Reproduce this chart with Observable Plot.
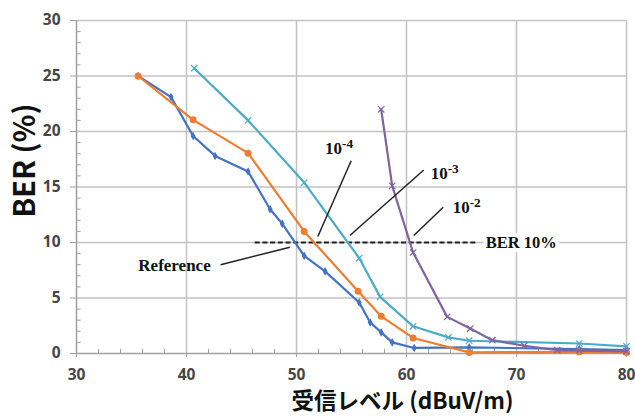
<!DOCTYPE html>
<html>
<head>
<meta charset="utf-8">
<script src="https://cdn.jsdelivr.net/npm/d3@7"></script>
<script src="https://cdn.jsdelivr.net/npm/@observablehq/plot@0.6"></script>
<style>
  html, body { margin: 0; padding: 0; background: #fff; }
</style>
</head>
<body>
<div id="chart"></div>
<script>
// ---- data ----
const refX = [35.6, 38.6, 40.6, 42.6, 45.6, 47.6, 48.7, 50.7, 52.6, 55.7, 56.7, 57.7, 58.7, 60.7, 65.7, 75.7, 80];
const refY = [25, 23.1, 19.6, 17.8, 16.4, 13.0, 11.7, 8.8, 7.4, 4.6, 2.8, 1.9, 1.0, 0.5, 0.55, 0.4, 0.3];

const e4X = [35.6, 40.6, 45.6, 50.7, 55.6, 57.7, 60.6, 65.7, 75.7, 80];
const e4Y = [25, 21.05, 18.05, 11.0, 5.6, 3.35, 1.4, 0.1, 0.15, 0.1];

const e3X = [40.7, 45.6, 50.7, 55.7, 57.6, 60.6, 63.8, 65.7, 75.7, 80];
const e3Y = [25.7, 21.0, 15.4, 8.6, 5.1, 2.45, 1.45, 1.15, 0.9, 0.65];

const e2X = [57.7, 58.7, 60.6, 63.7, 65.8, 67.8, 70.7, 73.7, 75.7, 80];
const e2Y = [22.0, 15.1, 9.1, 3.3, 2.25, 1.2, 0.7, 0.3, 0.25, 0.2];

const xTicks = [30, 40, 50, 60, 70, 80];
const yTicks = [0, 5, 10, 15, 20, 25, 30];
const xMinor = [32, 34, 36, 38, 42, 44, 46, 48, 52, 54, 56, 58, 62, 64, 66, 68, 72, 74, 76, 78];
const yMinor = [1,2,3,4,6,7,8,9,11,12,13,14,16,17,18,19,21,22,23,24,26,27,28,29];

const xTitle = "受信レベル (dBuV/m)";
const yTitle = "BER (%)";

// threshold line
const berLevel = 10;
const berRange = [46.2, 66.4];
const berLabel = "BER 10%";
const berLabelX = 67.2;

// annotation callouts
const refLabel = "Reference";
const refLabelPos = [42.2, 7.93];
const refLeader = [43.1, 8.0, 49.4, 9.58];

const expLabels = ["10-4", "10-3", "10-2"];
const expLabelX = [52.6, 62.2, 64.2];
const expLabelY = [18.45, 16.25, 13.17];
const leadX1 = [54.97, 61.57, 63.34];
const leadY1 = [17.37, 16.53, 13.17];
const leadX2 = [51.94, 54.85, 60.66];
const leadY2 = [10.54, 10.63, 10.63];

const colors = { ref: "#4472C4", e4: "#ED7D31", e3: "#4BACC6", e2: "#8064A2" };

const toPts = (xs, ys) => xs.map((x, i) => ({ x, y: ys[i] }));
const refPts = toPts(refX, refY);
const e4Pts = toPts(e4X, e4Y);
const e3Pts = toPts(e3X, e3Y);
const e2Pts = toPts(e2X, e2Y);
const leaders = expLabels.map((t, i) => ({ x1: leadX1[i], y1: leadY1[i], x2: leadX2[i], y2: leadY2[i] }));
const expPts = expLabels.map((t, i) => ({ t, x: expLabelX[i], y: expLabelY[i] }));

const gridColor = "#c2c2c2";
const axisColor = "#a0a0a0";
const serif = "'Liberation Serif', 'DejaVu Serif', serif";
const titleFont = "'Noto Sans CJK JP', sans-serif";

const chart = Plot.plot({
  width: 635,
  height: 418,
  marginLeft: 76,
  marginRight: 9,
  marginTop: 20,
  marginBottom: 65,
  style: { fontFamily: "'Open Sans', sans-serif", background: "#fff", overflow: "visible" },
  x: { domain: [30, 80], label: null },
  y: { domain: [0, 30], label: null },
  marks: [
    Plot.gridX(xTicks.slice(1), { stroke: gridColor, strokeOpacity: 1, strokeWidth: 1.5 }),
    Plot.gridY(yTicks.slice(1), { stroke: gridColor, strokeOpacity: 1, strokeWidth: 1.5 }),
    Plot.ruleY(yMinor, { x1: 30, x2: 30.42, stroke: axisColor, strokeWidth: 1 }),
    Plot.ruleX(xMinor, { y1: 0, y2: 0.38, stroke: axisColor, strokeWidth: 1 }),
    Plot.axisY({ ticks: yTicks, tickSize: 6, tickPadding: 10, fontSize: 15.5, fontWeight: "bold",
      color: "#454545", stroke: axisColor, label: null }),
    Plot.axisX({ ticks: xTicks, tickSize: 4, tickPadding: 11, fontSize: 15.5, fontWeight: "bold",
      color: "#454545", stroke: axisColor, label: null }),
    Plot.ruleX([30], { stroke: axisColor, strokeWidth: 1.5 }),
    Plot.ruleY([0], { stroke: axisColor, strokeWidth: 1.5 }),

    // threshold
    Plot.link([berLevel], { x1: berRange[0], x2: berRange[1], y1: d => d, y2: d => d,
      stroke: "#222", strokeWidth: 2, strokeDasharray: "5,2.7" }),
    Plot.text([berLabel], { x: berLabelX, y: berLevel, text: d => d, textAnchor: "start",
      fontFamily: serif, fontWeight: "bold", fontSize: 16.5, fill: "#111",
      stroke: "#fff", strokeWidth: 8 }),

    // series
    Plot.line(refPts, { x: "x", y: "y", stroke: colors.ref, strokeWidth: 2.2 }),
    Plot.dot(refPts, { x: "x", y: "y", symbol: "diamond", r: 2.6, fill: colors.ref }),
    Plot.line(e4Pts, { x: "x", y: "y", stroke: colors.e4, strokeWidth: 2.2 }),
    Plot.dot(e4Pts, { x: "x", y: "y", symbol: "circle", r: 3.5, fill: colors.e4 }),
    Plot.line(e3Pts, { x: "x", y: "y", stroke: colors.e3, strokeWidth: 2.2 }),
    Plot.dot(e3Pts, { x: "x", y: "y", symbol: "times", r: 3, stroke: colors.e3, strokeWidth: 1.2 }),
    Plot.line(e2Pts, { x: "x", y: "y", stroke: colors.e2, strokeWidth: 2.2 }),
    Plot.dot(e2Pts, { x: "x", y: "y", symbol: "times", r: 3, stroke: colors.e2, strokeWidth: 1.2 }),

    // callouts
    Plot.link([refLeader], { x1: d => d[0], y1: d => d[1], x2: d => d[2], y2: d => d[3],
      stroke: "#222", strokeWidth: 1.5 }),
    Plot.text([refLabel], { x: refLabelPos[0], y: refLabelPos[1], text: d => d, textAnchor: "end",
      fontFamily: serif, fontWeight: "bold", fontSize: 17, fill: "#111" }),
    Plot.link(leaders, { x1: "x1", y1: "y1", x2: "x2", y2: "y2", stroke: "#222", strokeWidth: 1.5 }),
    Plot.text(expPts, { x: "x", y: "y", text: "t", textAnchor: "start",
      fontFamily: serif, fontWeight: "bold", fontSize: 17, fill: "#111",
      stroke: "#fff", strokeWidth: 4 }),

    // titles
    Plot.text([xTitle], { frameAnchor: "bottom", textAnchor: "middle", lineAnchor: "middle",
      dx: 51, dy: 48, text: d => d,
      fontFamily: titleFont, fontWeight: "bold", fontSize: 22.5, fill: "#111" }),
    Plot.text([yTitle], { frameAnchor: "left", textAnchor: "middle", lineAnchor: "middle",
      dx: -51, dy: -26.5, rotate: -90, text: d => d,
      fontFamily: titleFont, fontWeight: "bold", fontSize: 29, fill: "#111" })
  ]
});

// superscript exponents (10-4 -> 10 with raised -4)
d3.select(chart).selectAll("text").each(function () {
  const t = d3.select(this);
  if (t.selectAll("tspan").size() > 0) return;
  const s = t.text();
  if (!expLabels.includes(s)) return;
  t.text(s.slice(0, 2));
  t.append("tspan").attr("dy", "-0.45em").attr("font-size", "0.78em").text(s.slice(2));
});

document.getElementById("chart").appendChild(chart);
</script>
</body>
</html>
